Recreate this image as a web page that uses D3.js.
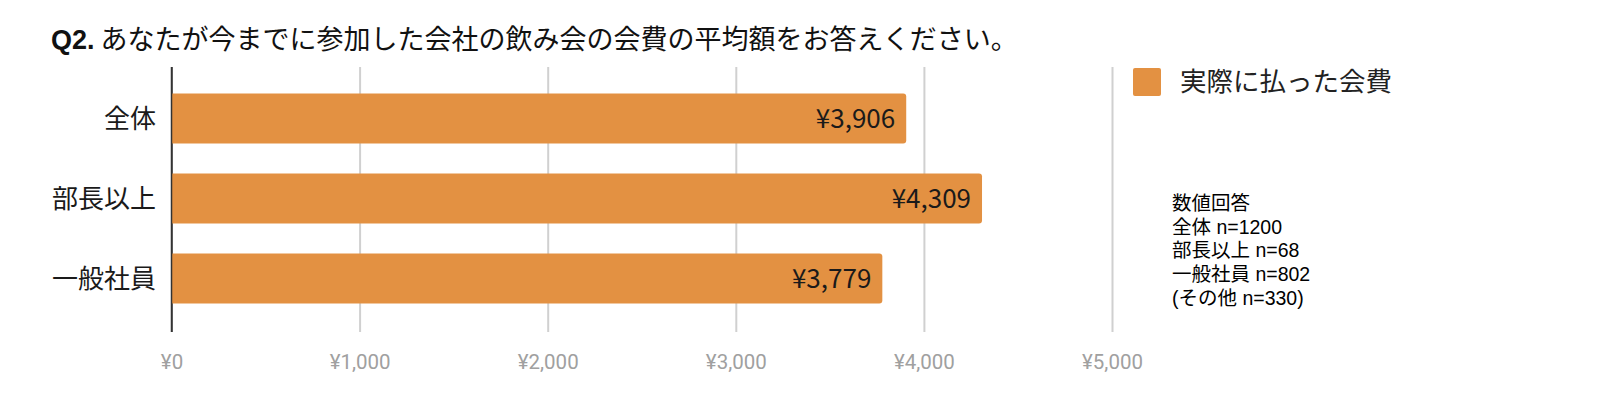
<!DOCTYPE html>
<html>
<head>
<meta charset="utf-8">
<script src="https://cdn.jsdelivr.net/npm/d3@7"></script>
<style>
  body { margin: 0; background: #fff; }
  text { font-family: "Noto Sans CJK JP", "Noto Sans", sans-serif; }
</style>
</head>
<body>
<div id="chart"></div>
<script>
// data
var categories = ["全体", "部長以上", "一般社員"];
var values = [3906, 4309, 3779];
var tickValues = [0, 1000, 2000, 3000, 4000, 5000];
var seriesName = "実際に払った会費";
var titleBold = "Q2.";
var titleText = " あなたが今までに参加した会社の飲み会の会費の平均額をお答えください。";
var notes = ["数値回答", "全体 n=1200", "部長以上 n=68", "一般社員 n=802", "(その他 n=330)"];

var W = 1616, H = 398;
var barColor = "#e39142";

var svg = d3.select("#chart")
	.append("svg")
	.attr("width", W)
	.attr("height", H);

var x = d3.scaleLinear().domain([0, 5000]).range([171.5, 1112]);
var y = d3.scaleBand().domain(categories).range([78.5, 318.5])
	.paddingInner(0.375).paddingOuter(0.1875);

var yen = function(d) { return "¥" + d3.format(",")(d); };

// title
var title = svg.append("text")
	.attr("x", 51)
	.attr("y", 49)
	.style("font-size", "27px")
	.style("fill", "#111");
title.append("tspan").text(titleBold)
	.style("font-family", "'Liberation Sans', Arial, sans-serif")
	.style("font-weight", "bold");
title.append("tspan").text(titleText);

// gridlines + axis labels
var xAxis = d3.axisBottom(x)
	.tickValues(tickValues)
	.tickSize(-(332 - 67))
	.tickFormat(yen);

var gx = svg.append("g")
	.attr("transform", "translate(0,332)")
	.call(xAxis);
gx.select(".domain").remove();
gx.selectAll(".tick line")
	.attr("stroke", function(d) { return d === 0 ? "#333" : "#d0d0d0"; })
	.attr("stroke-width", function(d) { return d === 0 ? 1.5 : 2; });
gx.selectAll(".tick text")
	.attr("y", 22)
	.style("font-family", "Roboto, sans-serif")
	.style("font-size", "20.5px")
	.style("fill", "#a0a0a0");

// bars
var bars = svg.selectAll(".bar")
	.data(values)
	.enter().append("path")
	.attr("class", "bar")
	.attr("fill", barColor)
	.attr("d", function(d, i) {
		var x0 = x(0), x1 = x(d), y0 = y(categories[i]), h = y.bandwidth(), r = 3;
		return "M" + x0 + "," + y0 + "H" + (x1 - r) + "Q" + x1 + "," + y0 + " " + x1 + "," + (y0 + r)
			+ "V" + (y0 + h - r) + "Q" + x1 + "," + (y0 + h) + " " + (x1 - r) + "," + (y0 + h)
			+ "H" + x0 + "Z";
	});

// redraw the zero line over the bars
svg.append("line")
	.attr("x1", x(0)).attr("x2", x(0))
	.attr("y1", 67).attr("y2", 332)
	.attr("stroke", "#333").attr("stroke-width", 1.5);

// value labels
svg.selectAll(".val")
	.data(values)
	.enter().append("text")
	.attr("class", "val")
	.attr("x", function(d) { return x(d) - 11; })
	.attr("y", function(d, i) { return y(categories[i]) + y.bandwidth() / 2; })
	.attr("dy", "0.35em")
	.attr("text-anchor", "end")
	.style("font-size", "26px")
	.style("fill", "#1a1a1a")
	.text(yen);

// category labels
svg.selectAll(".cat")
	.data(categories)
	.enter().append("text")
	.attr("class", "cat")
	.attr("x", 156)
	.attr("y", function(d) { return y(d) + y.bandwidth() / 2; })
	.attr("dy", "0.35em")
	.attr("text-anchor", "end")
	.style("font-size", "26px")
	.style("fill", "#1a1a1a")
	.text(function(d) { return d; });

// legend
svg.append("rect")
	.attr("x", 1133).attr("y", 68)
	.attr("width", 28).attr("height", 28)
	.attr("rx", 2)
	.attr("fill", barColor);
svg.append("text")
	.attr("x", 1180).attr("y", 82)
	.attr("dy", "0.35em")
	.style("font-size", "26.5px")
	.style("fill", "#222")
	.text(seriesName);

// notes
svg.selectAll(".note")
	.data(notes)
	.enter().append("text")
	.attr("class", "note")
	.attr("x", 1172)
	.attr("y", function(d, i) { return 203 + i * 23.7; })
	.attr("dy", "0.35em")
	.style("font-family", "'Liberation Sans', 'Noto Sans CJK JP', sans-serif")
	.style("font-size", "19.5px")
	.style("fill", "#000")
	.text(function(d) { return d; });
</script>
</body>
</html>
